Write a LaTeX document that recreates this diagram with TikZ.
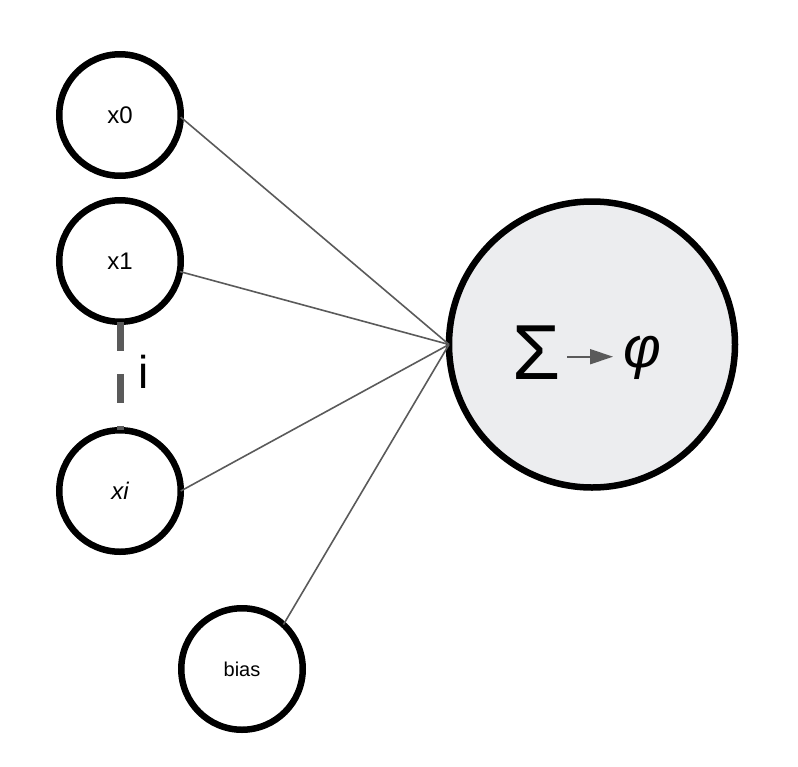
\documentclass[tikz,border=0pt]{standalone}
\usepackage{fontspec}
\setmainfont{Liberation Sans}
\usetikzlibrary{arrows.meta}
\definecolor{edgegray}{HTML}{5A5A5A}
\definecolor{sumfill}{HTML}{ECEDEF}
\begin{document}
\begin{tikzpicture}[x=1pt,y=-1pt,
  neuron/.style={circle,draw=black,line width=6.5pt,fill=white,minimum size=121.5pt,
    inner sep=0pt,outer sep=0pt,font=\fontsize{24}{27}\selectfont},
  link/.style={draw=edgegray,line width=1.6pt},
  dots/.style={draw=edgegray,line width=7pt,dash pattern=on 29pt off 23pt}]
\useasboundingbox (0,0) rectangle (798,766);
\node[neuron] (x0) at (120,115) {x0};
\node[neuron] (x1) at (120,261) {x1};
\node[neuron] (xi) at (120,491) {\itshape xi};
\node[neuron,font=\fontsize{20}{22}\selectfont] (bias) at (242,669) {bias};
\node[neuron,fill=sumfill,minimum size=286pt] (sum) at (592,344.5) {};
\draw[link] (x0.-2) -- (sum.west);
\draw[link] (x1.-10) -- (sum.west);
\draw[link] (xi.0) -- (sum.west);
\draw[link] (bias.47) -- (sum.west);
\draw[dots] (x1.south) -- (xi.north);
\node[font=\fontsize{46}{50}\selectfont,anchor=base,inner sep=0pt] (ilab) at (143.5,388) {i};
\node[font=\fontsize{78}{80}\selectfont,anchor=base,inner sep=0pt] (sig) at (536.5,379) {Σ};
\node[font=\fontsize{58}{60}\selectfont\itshape,anchor=base,inner sep=0pt] (phi) at (642.5,367) {φ};
\coordinate (a1) at (567,356.7);
\coordinate (a2) at (613,356.7);
\draw[edgegray,line width=2pt,-{Triangle[length=23pt,width=15pt]}] (a1) -- (a2);
\end{tikzpicture}
\end{document}
